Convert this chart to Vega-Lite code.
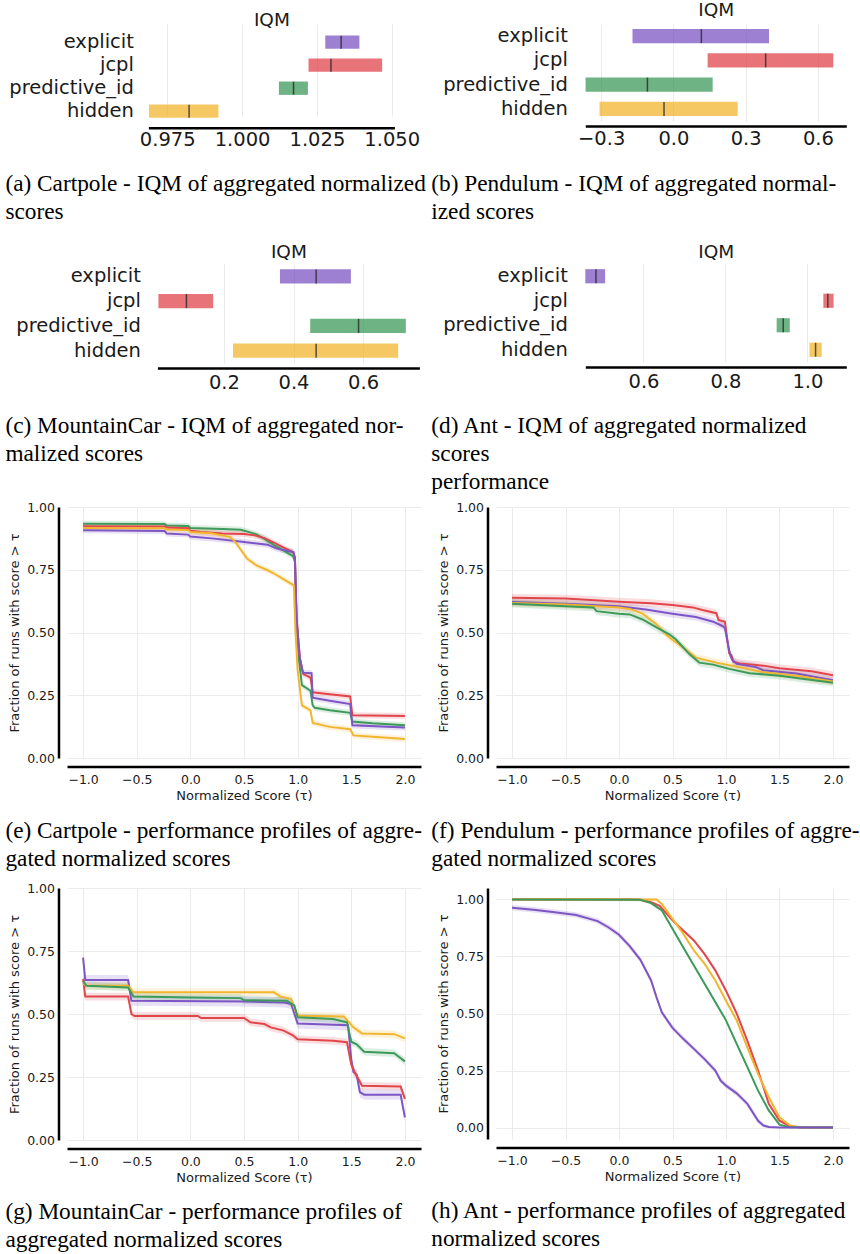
{
"$schema": "https://vega.github.io/schema/vega-lite/v6.json",
"padding": {"left": 5, "top": 0, "right": 0, "bottom": 0},
"background": "white",
"columns": 2,
"align": "each",
"bounds": "full",
"spacing": {"row": 0, "column": 5},
"config": {
  "view": {"stroke": null},
  "font": "DejaVu Sans",
  "axis": {"labelFont": "DejaVu Sans", "titleFont": "DejaVu Sans", "labelColor": "#1a1a1a", "titleColor": "#1a1a1a", "titleFontWeight": "normal", "ticks": false, "domainColor": "#000000", "domainWidth": 2.5, "gridColor": "#ebebeb", "gridWidth": 1, "labelFlush": false, "labelOverlap": false, "labelBound": false},
  "title": {"font": "Liberation Serif", "fontSize": 23.3, "fontWeight": "normal", "color": "#000000", "lineHeight": 28}
},
"datasets": {
  "iqm_a": [
    {"m": "explicit", "lo": 1.0278, "hi": 1.0392, "med": 1.0331},
    {"m": "jcpl", "lo": 1.0222, "hi": 1.0468, "med": 1.0297},
    {"m": "predictive_id", "lo": 1.0123, "hi": 1.022, "med": 1.0172},
    {"m": "hidden", "lo": 0.9689, "hi": 0.9921, "med": 0.9823}
  ],
  "iqm_b": [
    {"m": "explicit", "lo": -0.17, "hi": 0.397, "med": 0.116},
    {"m": "jcpl", "lo": 0.142, "hi": 0.664, "med": 0.383},
    {"m": "predictive_id", "lo": -0.365, "hi": 0.163, "med": -0.108},
    {"m": "hidden", "lo": -0.307, "hi": 0.267, "med": -0.039}
  ],
  "iqm_c": [
    {"m": "explicit", "lo": 0.361, "hi": 0.565, "med": 0.465},
    {"m": "jcpl", "lo": 0.0115, "hi": 0.169, "med": 0.092},
    {"m": "predictive_id", "lo": 0.448, "hi": 0.723, "med": 0.587},
    {"m": "hidden", "lo": 0.226, "hi": 0.701, "med": 0.465}
  ],
  "iqm_d": [
    {"m": "explicit", "lo": 0.458, "hi": 0.5065, "med": 0.484},
    {"m": "jcpl", "lo": 1.039, "hi": 1.064, "med": 1.05},
    {"m": "predictive_id", "lo": 0.925, "hi": 0.957, "med": 0.941},
    {"m": "hidden", "lo": 1.005, "hi": 1.035, "med": 1.02}
  ],
  "pp_e": [
    {"m": "predictive_id", "t": -1.0, "v": 0.933, "lo": 0.921, "hi": 0.945},
    {"m": "predictive_id", "t": -0.24, "v": 0.932, "lo": 0.92, "hi": 0.944},
    {"m": "predictive_id", "t": -0.22, "v": 0.926, "lo": 0.914, "hi": 0.938},
    {"m": "predictive_id", "t": -0.02, "v": 0.924, "lo": 0.912, "hi": 0.936},
    {"m": "predictive_id", "t": 0.0, "v": 0.916, "lo": 0.904, "hi": 0.928},
    {"m": "predictive_id", "t": 0.3, "v": 0.912, "lo": 0.9, "hi": 0.924},
    {"m": "predictive_id", "t": 0.47, "v": 0.909, "lo": 0.897, "hi": 0.921},
    {"m": "predictive_id", "t": 0.55, "v": 0.9, "lo": 0.888, "hi": 0.912},
    {"m": "predictive_id", "t": 0.62, "v": 0.89, "lo": 0.878, "hi": 0.902},
    {"m": "predictive_id", "t": 0.69, "v": 0.873, "lo": 0.861, "hi": 0.885},
    {"m": "predictive_id", "t": 0.78, "v": 0.848, "lo": 0.836, "hi": 0.86},
    {"m": "predictive_id", "t": 0.87, "v": 0.826, "lo": 0.814, "hi": 0.838},
    {"m": "predictive_id", "t": 0.96, "v": 0.803, "lo": 0.791, "hi": 0.815},
    {"m": "predictive_id", "t": 0.975, "v": 0.78, "lo": 0.768, "hi": 0.792},
    {"m": "predictive_id", "t": 0.99, "v": 0.55, "lo": 0.538, "hi": 0.562},
    {"m": "predictive_id", "t": 1.01, "v": 0.4, "lo": 0.388, "hi": 0.412},
    {"m": "predictive_id", "t": 1.04, "v": 0.29, "lo": 0.278, "hi": 0.302},
    {"m": "predictive_id", "t": 1.12, "v": 0.268, "lo": 0.256, "hi": 0.28},
    {"m": "predictive_id", "t": 1.14, "v": 0.21, "lo": 0.198, "hi": 0.222},
    {"m": "predictive_id", "t": 1.16, "v": 0.2, "lo": 0.188, "hi": 0.212},
    {"m": "predictive_id", "t": 1.3, "v": 0.19, "lo": 0.178, "hi": 0.202},
    {"m": "predictive_id", "t": 1.49, "v": 0.18, "lo": 0.168, "hi": 0.192},
    {"m": "predictive_id", "t": 1.51, "v": 0.145, "lo": 0.133, "hi": 0.157},
    {"m": "predictive_id", "t": 1.7, "v": 0.138, "lo": 0.126, "hi": 0.15},
    {"m": "predictive_id", "t": 2.0, "v": 0.13, "lo": 0.118, "hi": 0.142},
    {"m": "jcpl", "t": -1.0, "v": 0.923, "lo": 0.911, "hi": 0.935},
    {"m": "jcpl", "t": -0.24, "v": 0.922, "lo": 0.91, "hi": 0.934},
    {"m": "jcpl", "t": -0.22, "v": 0.918, "lo": 0.906, "hi": 0.93},
    {"m": "jcpl", "t": -0.02, "v": 0.915, "lo": 0.903, "hi": 0.927},
    {"m": "jcpl", "t": 0.0, "v": 0.905, "lo": 0.893, "hi": 0.917},
    {"m": "jcpl", "t": 0.1, "v": 0.9, "lo": 0.888, "hi": 0.912},
    {"m": "jcpl", "t": 0.3, "v": 0.894, "lo": 0.882, "hi": 0.906},
    {"m": "jcpl", "t": 0.5, "v": 0.892, "lo": 0.88, "hi": 0.904},
    {"m": "jcpl", "t": 0.6, "v": 0.887, "lo": 0.875, "hi": 0.899},
    {"m": "jcpl", "t": 0.69, "v": 0.876, "lo": 0.864, "hi": 0.888},
    {"m": "jcpl", "t": 0.78, "v": 0.858, "lo": 0.846, "hi": 0.87},
    {"m": "jcpl", "t": 0.87, "v": 0.838, "lo": 0.826, "hi": 0.85},
    {"m": "jcpl", "t": 0.96, "v": 0.82, "lo": 0.808, "hi": 0.832},
    {"m": "jcpl", "t": 0.975, "v": 0.79, "lo": 0.778, "hi": 0.802},
    {"m": "jcpl", "t": 0.99, "v": 0.56, "lo": 0.548, "hi": 0.572},
    {"m": "jcpl", "t": 1.02, "v": 0.4, "lo": 0.388, "hi": 0.412},
    {"m": "jcpl", "t": 1.05, "v": 0.335, "lo": 0.323, "hi": 0.347},
    {"m": "jcpl", "t": 1.12, "v": 0.32, "lo": 0.308, "hi": 0.332},
    {"m": "jcpl", "t": 1.14, "v": 0.262, "lo": 0.25, "hi": 0.274},
    {"m": "jcpl", "t": 1.3, "v": 0.254, "lo": 0.242, "hi": 0.266},
    {"m": "jcpl", "t": 1.49, "v": 0.245, "lo": 0.233, "hi": 0.257},
    {"m": "jcpl", "t": 1.51, "v": 0.17, "lo": 0.158, "hi": 0.182},
    {"m": "jcpl", "t": 2.0, "v": 0.167, "lo": 0.155, "hi": 0.179},
    {"m": "explicit", "t": -1.0, "v": 0.907, "lo": 0.895, "hi": 0.919},
    {"m": "explicit", "t": -0.24, "v": 0.904, "lo": 0.892, "hi": 0.916},
    {"m": "explicit", "t": -0.22, "v": 0.894, "lo": 0.882, "hi": 0.906},
    {"m": "explicit", "t": -0.02, "v": 0.89, "lo": 0.878, "hi": 0.902},
    {"m": "explicit", "t": 0.0, "v": 0.882, "lo": 0.87, "hi": 0.894},
    {"m": "explicit", "t": 0.2, "v": 0.875, "lo": 0.863, "hi": 0.887},
    {"m": "explicit", "t": 0.4, "v": 0.866, "lo": 0.854, "hi": 0.878},
    {"m": "explicit", "t": 0.5, "v": 0.861, "lo": 0.849, "hi": 0.873},
    {"m": "explicit", "t": 0.6, "v": 0.856, "lo": 0.844, "hi": 0.868},
    {"m": "explicit", "t": 0.72, "v": 0.85, "lo": 0.838, "hi": 0.862},
    {"m": "explicit", "t": 0.8, "v": 0.835, "lo": 0.823, "hi": 0.847},
    {"m": "explicit", "t": 0.96, "v": 0.82, "lo": 0.808, "hi": 0.832},
    {"m": "explicit", "t": 0.975, "v": 0.8, "lo": 0.788, "hi": 0.812},
    {"m": "explicit", "t": 0.99, "v": 0.55, "lo": 0.538, "hi": 0.562},
    {"m": "explicit", "t": 1.02, "v": 0.4, "lo": 0.388, "hi": 0.412},
    {"m": "explicit", "t": 1.05, "v": 0.34, "lo": 0.328, "hi": 0.352},
    {"m": "explicit", "t": 1.13, "v": 0.338, "lo": 0.326, "hi": 0.35},
    {"m": "explicit", "t": 1.14, "v": 0.24, "lo": 0.228, "hi": 0.252},
    {"m": "explicit", "t": 1.3, "v": 0.228, "lo": 0.216, "hi": 0.24},
    {"m": "explicit", "t": 1.49, "v": 0.215, "lo": 0.203, "hi": 0.227},
    {"m": "explicit", "t": 1.51, "v": 0.13, "lo": 0.118, "hi": 0.142},
    {"m": "explicit", "t": 2.0, "v": 0.122, "lo": 0.11, "hi": 0.134},
    {"m": "hidden", "t": -1.0, "v": 0.916, "lo": 0.904, "hi": 0.928},
    {"m": "hidden", "t": -0.24, "v": 0.915, "lo": 0.903, "hi": 0.927},
    {"m": "hidden", "t": -0.22, "v": 0.91, "lo": 0.898, "hi": 0.922},
    {"m": "hidden", "t": -0.02, "v": 0.908, "lo": 0.896, "hi": 0.92},
    {"m": "hidden", "t": 0.0, "v": 0.9, "lo": 0.888, "hi": 0.912},
    {"m": "hidden", "t": 0.2, "v": 0.895, "lo": 0.883, "hi": 0.907},
    {"m": "hidden", "t": 0.37, "v": 0.88, "lo": 0.868, "hi": 0.892},
    {"m": "hidden", "t": 0.42, "v": 0.86, "lo": 0.848, "hi": 0.872},
    {"m": "hidden", "t": 0.47, "v": 0.83, "lo": 0.818, "hi": 0.842},
    {"m": "hidden", "t": 0.53, "v": 0.794, "lo": 0.782, "hi": 0.806},
    {"m": "hidden", "t": 0.62, "v": 0.766, "lo": 0.754, "hi": 0.778},
    {"m": "hidden", "t": 0.72, "v": 0.748, "lo": 0.736, "hi": 0.76},
    {"m": "hidden", "t": 0.78, "v": 0.735, "lo": 0.723, "hi": 0.747},
    {"m": "hidden", "t": 0.87, "v": 0.712, "lo": 0.7, "hi": 0.724},
    {"m": "hidden", "t": 0.965, "v": 0.688, "lo": 0.676, "hi": 0.7},
    {"m": "hidden", "t": 0.98, "v": 0.5, "lo": 0.488, "hi": 0.512},
    {"m": "hidden", "t": 1.0, "v": 0.35, "lo": 0.338, "hi": 0.362},
    {"m": "hidden", "t": 1.04, "v": 0.21, "lo": 0.198, "hi": 0.222},
    {"m": "hidden", "t": 1.1, "v": 0.195, "lo": 0.183, "hi": 0.207},
    {"m": "hidden", "t": 1.12, "v": 0.19, "lo": 0.178, "hi": 0.202},
    {"m": "hidden", "t": 1.14, "v": 0.14, "lo": 0.128, "hi": 0.152},
    {"m": "hidden", "t": 1.3, "v": 0.124, "lo": 0.112, "hi": 0.136},
    {"m": "hidden", "t": 1.49, "v": 0.115, "lo": 0.103, "hi": 0.127},
    {"m": "hidden", "t": 1.52, "v": 0.09, "lo": 0.078, "hi": 0.102},
    {"m": "hidden", "t": 1.7, "v": 0.085, "lo": 0.073, "hi": 0.097},
    {"m": "hidden", "t": 2.0, "v": 0.076, "lo": 0.064, "hi": 0.088}
  ],
  "pp_f": [
    {"m": "jcpl", "t": -1.0, "v": 0.638, "lo": 0.623, "hi": 0.653},
    {"m": "jcpl", "t": -0.5, "v": 0.635, "lo": 0.62, "hi": 0.65},
    {"m": "jcpl", "t": 0.0, "v": 0.623, "lo": 0.608, "hi": 0.638},
    {"m": "jcpl", "t": 0.3, "v": 0.617, "lo": 0.602, "hi": 0.632},
    {"m": "jcpl", "t": 0.5, "v": 0.61, "lo": 0.595, "hi": 0.625},
    {"m": "jcpl", "t": 0.69, "v": 0.6, "lo": 0.585, "hi": 0.615},
    {"m": "jcpl", "t": 0.78, "v": 0.59, "lo": 0.575, "hi": 0.605},
    {"m": "jcpl", "t": 0.91, "v": 0.577, "lo": 0.562, "hi": 0.592},
    {"m": "jcpl", "t": 0.93, "v": 0.55, "lo": 0.535, "hi": 0.565},
    {"m": "jcpl", "t": 0.99, "v": 0.543, "lo": 0.528, "hi": 0.558},
    {"m": "jcpl", "t": 1.01, "v": 0.48, "lo": 0.465, "hi": 0.495},
    {"m": "jcpl", "t": 1.03, "v": 0.417, "lo": 0.402, "hi": 0.432},
    {"m": "jcpl", "t": 1.05, "v": 0.41, "lo": 0.395, "hi": 0.425},
    {"m": "jcpl", "t": 1.07, "v": 0.384, "lo": 0.369, "hi": 0.399},
    {"m": "jcpl", "t": 1.13, "v": 0.377, "lo": 0.362, "hi": 0.392},
    {"m": "jcpl", "t": 1.35, "v": 0.368, "lo": 0.353, "hi": 0.383},
    {"m": "jcpl", "t": 1.5, "v": 0.358, "lo": 0.343, "hi": 0.373},
    {"m": "jcpl", "t": 1.8, "v": 0.346, "lo": 0.331, "hi": 0.361},
    {"m": "jcpl", "t": 2.0, "v": 0.33, "lo": 0.315, "hi": 0.345},
    {"m": "explicit", "t": -1.0, "v": 0.622, "lo": 0.607, "hi": 0.637},
    {"m": "explicit", "t": -0.5, "v": 0.615, "lo": 0.6, "hi": 0.63},
    {"m": "explicit", "t": 0.0, "v": 0.605, "lo": 0.59, "hi": 0.62},
    {"m": "explicit", "t": 0.25, "v": 0.592, "lo": 0.577, "hi": 0.607},
    {"m": "explicit", "t": 0.5, "v": 0.575, "lo": 0.56, "hi": 0.59},
    {"m": "explicit", "t": 0.72, "v": 0.562, "lo": 0.547, "hi": 0.577},
    {"m": "explicit", "t": 0.88, "v": 0.543, "lo": 0.528, "hi": 0.558},
    {"m": "explicit", "t": 0.97, "v": 0.525, "lo": 0.51, "hi": 0.54},
    {"m": "explicit", "t": 0.99, "v": 0.518, "lo": 0.503, "hi": 0.533},
    {"m": "explicit", "t": 1.02, "v": 0.45, "lo": 0.435, "hi": 0.465},
    {"m": "explicit", "t": 1.04, "v": 0.41, "lo": 0.395, "hi": 0.425},
    {"m": "explicit", "t": 1.06, "v": 0.39, "lo": 0.375, "hi": 0.405},
    {"m": "explicit", "t": 1.1, "v": 0.375, "lo": 0.36, "hi": 0.39},
    {"m": "explicit", "t": 1.28, "v": 0.362, "lo": 0.347, "hi": 0.377},
    {"m": "explicit", "t": 1.35, "v": 0.35, "lo": 0.335, "hi": 0.365},
    {"m": "explicit", "t": 1.66, "v": 0.337, "lo": 0.322, "hi": 0.352},
    {"m": "explicit", "t": 2.0, "v": 0.31, "lo": 0.295, "hi": 0.325},
    {"m": "hidden", "t": -1.0, "v": 0.618, "lo": 0.603, "hi": 0.633},
    {"m": "hidden", "t": -0.5, "v": 0.612, "lo": 0.597, "hi": 0.627},
    {"m": "hidden", "t": 0.0, "v": 0.6, "lo": 0.585, "hi": 0.615},
    {"m": "hidden", "t": 0.1, "v": 0.594, "lo": 0.579, "hi": 0.609},
    {"m": "hidden", "t": 0.22, "v": 0.575, "lo": 0.56, "hi": 0.59},
    {"m": "hidden", "t": 0.35, "v": 0.533, "lo": 0.518, "hi": 0.548},
    {"m": "hidden", "t": 0.47, "v": 0.48, "lo": 0.465, "hi": 0.495},
    {"m": "hidden", "t": 0.6, "v": 0.44, "lo": 0.425, "hi": 0.455},
    {"m": "hidden", "t": 0.72, "v": 0.4, "lo": 0.385, "hi": 0.415},
    {"m": "hidden", "t": 0.91, "v": 0.38, "lo": 0.365, "hi": 0.395},
    {"m": "hidden", "t": 1.1, "v": 0.364, "lo": 0.349, "hi": 0.379},
    {"m": "hidden", "t": 1.35, "v": 0.342, "lo": 0.327, "hi": 0.357},
    {"m": "hidden", "t": 1.66, "v": 0.328, "lo": 0.313, "hi": 0.343},
    {"m": "hidden", "t": 2.0, "v": 0.305, "lo": 0.29, "hi": 0.32},
    {"m": "predictive_id", "t": -1.0, "v": 0.615, "lo": 0.6, "hi": 0.63},
    {"m": "predictive_id", "t": -0.5, "v": 0.605, "lo": 0.59, "hi": 0.62},
    {"m": "predictive_id", "t": -0.24, "v": 0.6, "lo": 0.585, "hi": 0.615},
    {"m": "predictive_id", "t": -0.21, "v": 0.585, "lo": 0.57, "hi": 0.6},
    {"m": "predictive_id", "t": 0.0, "v": 0.575, "lo": 0.56, "hi": 0.59},
    {"m": "predictive_id", "t": 0.1, "v": 0.572, "lo": 0.557, "hi": 0.587},
    {"m": "predictive_id", "t": 0.22, "v": 0.552, "lo": 0.537, "hi": 0.567},
    {"m": "predictive_id", "t": 0.35, "v": 0.52, "lo": 0.505, "hi": 0.535},
    {"m": "predictive_id", "t": 0.47, "v": 0.493, "lo": 0.478, "hi": 0.508},
    {"m": "predictive_id", "t": 0.53, "v": 0.473, "lo": 0.458, "hi": 0.488},
    {"m": "predictive_id", "t": 0.66, "v": 0.413, "lo": 0.398, "hi": 0.428},
    {"m": "predictive_id", "t": 0.75, "v": 0.38, "lo": 0.365, "hi": 0.395},
    {"m": "predictive_id", "t": 0.88, "v": 0.372, "lo": 0.357, "hi": 0.387},
    {"m": "predictive_id", "t": 1.03, "v": 0.355, "lo": 0.34, "hi": 0.37},
    {"m": "predictive_id", "t": 1.22, "v": 0.338, "lo": 0.323, "hi": 0.353},
    {"m": "predictive_id", "t": 1.5, "v": 0.328, "lo": 0.313, "hi": 0.343},
    {"m": "predictive_id", "t": 2.0, "v": 0.3, "lo": 0.285, "hi": 0.315}
  ],
  "pp_g": [
    {"m": "explicit", "t": -1.0, "v": 0.724, "lo": 0.704, "hi": 0.744},
    {"m": "explicit", "t": -0.98, "v": 0.635, "lo": 0.615, "hi": 0.655},
    {"m": "explicit", "t": -0.58, "v": 0.635, "lo": 0.615, "hi": 0.655},
    {"m": "explicit", "t": -0.55, "v": 0.553, "lo": 0.533, "hi": 0.573},
    {"m": "explicit", "t": 0.5, "v": 0.55, "lo": 0.53, "hi": 0.57},
    {"m": "explicit", "t": 0.875, "v": 0.546, "lo": 0.526, "hi": 0.566},
    {"m": "explicit", "t": 0.94, "v": 0.54, "lo": 0.52, "hi": 0.56},
    {"m": "explicit", "t": 1.0, "v": 0.462, "lo": 0.442, "hi": 0.482},
    {"m": "explicit", "t": 1.47, "v": 0.455, "lo": 0.435, "hi": 0.475},
    {"m": "explicit", "t": 1.5, "v": 0.32, "lo": 0.3, "hi": 0.34},
    {"m": "explicit", "t": 1.52, "v": 0.27, "lo": 0.25, "hi": 0.29},
    {"m": "explicit", "t": 1.55, "v": 0.26, "lo": 0.24, "hi": 0.28},
    {"m": "explicit", "t": 1.58, "v": 0.19, "lo": 0.17, "hi": 0.21},
    {"m": "explicit", "t": 1.62, "v": 0.18, "lo": 0.16, "hi": 0.2},
    {"m": "explicit", "t": 1.96, "v": 0.18, "lo": 0.16, "hi": 0.2},
    {"m": "explicit", "t": 2.0, "v": 0.09, "lo": 0.07, "hi": 0.11},
    {"m": "jcpl", "t": -1.0, "v": 0.639, "lo": 0.624, "hi": 0.654},
    {"m": "jcpl", "t": -0.98, "v": 0.569, "lo": 0.554, "hi": 0.584},
    {"m": "jcpl", "t": -0.58, "v": 0.569, "lo": 0.554, "hi": 0.584},
    {"m": "jcpl", "t": -0.55, "v": 0.5, "lo": 0.485, "hi": 0.515},
    {"m": "jcpl", "t": -0.52, "v": 0.492, "lo": 0.477, "hi": 0.507},
    {"m": "jcpl", "t": 0.07, "v": 0.492, "lo": 0.477, "hi": 0.507},
    {"m": "jcpl", "t": 0.1, "v": 0.484, "lo": 0.469, "hi": 0.499},
    {"m": "jcpl", "t": 0.5, "v": 0.484, "lo": 0.469, "hi": 0.499},
    {"m": "jcpl", "t": 0.56, "v": 0.467, "lo": 0.452, "hi": 0.482},
    {"m": "jcpl", "t": 0.69, "v": 0.46, "lo": 0.445, "hi": 0.475},
    {"m": "jcpl", "t": 0.75, "v": 0.447, "lo": 0.432, "hi": 0.462},
    {"m": "jcpl", "t": 0.87, "v": 0.434, "lo": 0.419, "hi": 0.449},
    {"m": "jcpl", "t": 0.96, "v": 0.414, "lo": 0.399, "hi": 0.429},
    {"m": "jcpl", "t": 1.0, "v": 0.4, "lo": 0.385, "hi": 0.415},
    {"m": "jcpl", "t": 1.33, "v": 0.394, "lo": 0.379, "hi": 0.409},
    {"m": "jcpl", "t": 1.46, "v": 0.388, "lo": 0.373, "hi": 0.403},
    {"m": "jcpl", "t": 1.5, "v": 0.3, "lo": 0.285, "hi": 0.315},
    {"m": "jcpl", "t": 1.53, "v": 0.27, "lo": 0.255, "hi": 0.285},
    {"m": "jcpl", "t": 1.55, "v": 0.255, "lo": 0.24, "hi": 0.27},
    {"m": "jcpl", "t": 1.6, "v": 0.215, "lo": 0.2, "hi": 0.23},
    {"m": "jcpl", "t": 1.96, "v": 0.212, "lo": 0.197, "hi": 0.227},
    {"m": "jcpl", "t": 2.0, "v": 0.163, "lo": 0.148, "hi": 0.178},
    {"m": "hidden", "t": -1.0, "v": 0.62, "lo": 0.605, "hi": 0.635},
    {"m": "hidden", "t": -0.97, "v": 0.612, "lo": 0.597, "hi": 0.627},
    {"m": "hidden", "t": -0.58, "v": 0.612, "lo": 0.597, "hi": 0.627},
    {"m": "hidden", "t": -0.53, "v": 0.586, "lo": 0.571, "hi": 0.601},
    {"m": "hidden", "t": 0.78, "v": 0.586, "lo": 0.571, "hi": 0.601},
    {"m": "hidden", "t": 0.84, "v": 0.569, "lo": 0.554, "hi": 0.584},
    {"m": "hidden", "t": 0.94, "v": 0.56, "lo": 0.545, "hi": 0.575},
    {"m": "hidden", "t": 0.99, "v": 0.5, "lo": 0.485, "hi": 0.515},
    {"m": "hidden", "t": 1.02, "v": 0.493, "lo": 0.478, "hi": 0.508},
    {"m": "hidden", "t": 1.43, "v": 0.49, "lo": 0.475, "hi": 0.505},
    {"m": "hidden", "t": 1.48, "v": 0.467, "lo": 0.452, "hi": 0.482},
    {"m": "hidden", "t": 1.52, "v": 0.447, "lo": 0.432, "hi": 0.462},
    {"m": "hidden", "t": 1.6, "v": 0.423, "lo": 0.408, "hi": 0.438},
    {"m": "hidden", "t": 1.9, "v": 0.42, "lo": 0.405, "hi": 0.435},
    {"m": "hidden", "t": 2.0, "v": 0.403, "lo": 0.388, "hi": 0.418},
    {"m": "predictive_id", "t": -1.0, "v": 0.632, "lo": 0.617, "hi": 0.647},
    {"m": "predictive_id", "t": -0.97, "v": 0.612, "lo": 0.597, "hi": 0.627},
    {"m": "predictive_id", "t": -0.58, "v": 0.605, "lo": 0.59, "hi": 0.62},
    {"m": "predictive_id", "t": -0.53, "v": 0.569, "lo": 0.554, "hi": 0.584},
    {"m": "predictive_id", "t": 0.0, "v": 0.565, "lo": 0.55, "hi": 0.58},
    {"m": "predictive_id", "t": 0.47, "v": 0.563, "lo": 0.548, "hi": 0.578},
    {"m": "predictive_id", "t": 0.5, "v": 0.555, "lo": 0.54, "hi": 0.57},
    {"m": "predictive_id", "t": 0.9, "v": 0.553, "lo": 0.538, "hi": 0.568},
    {"m": "predictive_id", "t": 0.97, "v": 0.533, "lo": 0.518, "hi": 0.548},
    {"m": "predictive_id", "t": 1.0, "v": 0.487, "lo": 0.472, "hi": 0.502},
    {"m": "predictive_id", "t": 1.33, "v": 0.48, "lo": 0.465, "hi": 0.495},
    {"m": "predictive_id", "t": 1.46, "v": 0.467, "lo": 0.452, "hi": 0.482},
    {"m": "predictive_id", "t": 1.5, "v": 0.39, "lo": 0.375, "hi": 0.405},
    {"m": "predictive_id", "t": 1.55, "v": 0.38, "lo": 0.365, "hi": 0.395},
    {"m": "predictive_id", "t": 1.62, "v": 0.35, "lo": 0.335, "hi": 0.365},
    {"m": "predictive_id", "t": 1.9, "v": 0.344, "lo": 0.329, "hi": 0.359},
    {"m": "predictive_id", "t": 2.0, "v": 0.312, "lo": 0.297, "hi": 0.327}
  ],
  "pp_h": [
    {"m": "jcpl", "t": -1.0, "v": 1.0, "lo": 0.994, "hi": 1.006},
    {"m": "jcpl", "t": 0.1, "v": 1.0, "lo": 0.994, "hi": 1.006},
    {"m": "jcpl", "t": 0.2, "v": 0.998, "lo": 0.992, "hi": 1.004},
    {"m": "jcpl", "t": 0.3, "v": 0.988, "lo": 0.982, "hi": 0.994},
    {"m": "jcpl", "t": 0.38, "v": 0.972, "lo": 0.966, "hi": 0.978},
    {"m": "jcpl", "t": 0.5, "v": 0.908, "lo": 0.902, "hi": 0.914},
    {"m": "jcpl", "t": 0.6, "v": 0.864, "lo": 0.858, "hi": 0.87},
    {"m": "jcpl", "t": 0.7, "v": 0.82, "lo": 0.814, "hi": 0.826},
    {"m": "jcpl", "t": 0.8, "v": 0.76, "lo": 0.754, "hi": 0.766},
    {"m": "jcpl", "t": 0.9, "v": 0.689, "lo": 0.683, "hi": 0.695},
    {"m": "jcpl", "t": 1.0, "v": 0.6, "lo": 0.594, "hi": 0.606},
    {"m": "jcpl", "t": 1.1, "v": 0.5, "lo": 0.494, "hi": 0.506},
    {"m": "jcpl", "t": 1.2, "v": 0.38, "lo": 0.374, "hi": 0.386},
    {"m": "jcpl", "t": 1.3, "v": 0.25, "lo": 0.244, "hi": 0.256},
    {"m": "jcpl", "t": 1.4, "v": 0.104, "lo": 0.098, "hi": 0.11},
    {"m": "jcpl", "t": 1.5, "v": 0.03, "lo": 0.024, "hi": 0.036},
    {"m": "jcpl", "t": 1.6, "v": 0.006, "lo": 0.0, "hi": 0.012},
    {"m": "jcpl", "t": 1.7, "v": 0.0, "lo": -0.003, "hi": 0.003},
    {"m": "jcpl", "t": 2.0, "v": 0.0, "lo": -0.003, "hi": 0.003},
    {"m": "hidden", "t": -1.0, "v": 1.0, "lo": 0.994, "hi": 1.006},
    {"m": "hidden", "t": 0.35, "v": 1.0, "lo": 0.994, "hi": 1.006},
    {"m": "hidden", "t": 0.4, "v": 0.98, "lo": 0.974, "hi": 0.986},
    {"m": "hidden", "t": 0.5, "v": 0.915, "lo": 0.909, "hi": 0.921},
    {"m": "hidden", "t": 0.6, "v": 0.85, "lo": 0.844, "hi": 0.856},
    {"m": "hidden", "t": 0.7, "v": 0.776, "lo": 0.77, "hi": 0.782},
    {"m": "hidden", "t": 0.8, "v": 0.718, "lo": 0.712, "hi": 0.724},
    {"m": "hidden", "t": 0.9, "v": 0.645, "lo": 0.639, "hi": 0.651},
    {"m": "hidden", "t": 1.0, "v": 0.556, "lo": 0.55, "hi": 0.562},
    {"m": "hidden", "t": 1.1, "v": 0.47, "lo": 0.464, "hi": 0.476},
    {"m": "hidden", "t": 1.2, "v": 0.35, "lo": 0.344, "hi": 0.356},
    {"m": "hidden", "t": 1.3, "v": 0.235, "lo": 0.229, "hi": 0.241},
    {"m": "hidden", "t": 1.4, "v": 0.133, "lo": 0.127, "hi": 0.139},
    {"m": "hidden", "t": 1.5, "v": 0.045, "lo": 0.039, "hi": 0.051},
    {"m": "hidden", "t": 1.6, "v": 0.009, "lo": 0.003, "hi": 0.015},
    {"m": "hidden", "t": 1.7, "v": 0.0, "lo": -0.003, "hi": 0.003},
    {"m": "hidden", "t": 2.0, "v": 0.0, "lo": -0.003, "hi": 0.003},
    {"m": "predictive_id", "t": -1.0, "v": 1.0, "lo": 0.994, "hi": 1.006},
    {"m": "predictive_id", "t": 0.2, "v": 0.998, "lo": 0.992, "hi": 1.004},
    {"m": "predictive_id", "t": 0.3, "v": 0.984, "lo": 0.978, "hi": 0.99},
    {"m": "predictive_id", "t": 0.4, "v": 0.952, "lo": 0.946, "hi": 0.958},
    {"m": "predictive_id", "t": 0.5, "v": 0.871, "lo": 0.865, "hi": 0.877},
    {"m": "predictive_id", "t": 0.6, "v": 0.79, "lo": 0.784, "hi": 0.796},
    {"m": "predictive_id", "t": 0.7, "v": 0.71, "lo": 0.704, "hi": 0.716},
    {"m": "predictive_id", "t": 0.8, "v": 0.63, "lo": 0.624, "hi": 0.636},
    {"m": "predictive_id", "t": 0.9, "v": 0.55, "lo": 0.544, "hi": 0.556},
    {"m": "predictive_id", "t": 1.0, "v": 0.47, "lo": 0.464, "hi": 0.476},
    {"m": "predictive_id", "t": 1.1, "v": 0.367, "lo": 0.361, "hi": 0.373},
    {"m": "predictive_id", "t": 1.2, "v": 0.265, "lo": 0.259, "hi": 0.271},
    {"m": "predictive_id", "t": 1.3, "v": 0.162, "lo": 0.156, "hi": 0.168},
    {"m": "predictive_id", "t": 1.4, "v": 0.075, "lo": 0.069, "hi": 0.081},
    {"m": "predictive_id", "t": 1.5, "v": 0.013, "lo": 0.007, "hi": 0.019},
    {"m": "predictive_id", "t": 1.6, "v": 0.001, "lo": -0.003, "hi": 0.005},
    {"m": "predictive_id", "t": 2.0, "v": 0.0, "lo": -0.003, "hi": 0.003},
    {"m": "explicit", "t": -1.0, "v": 0.963, "lo": 0.951, "hi": 0.975},
    {"m": "explicit", "t": -0.8, "v": 0.955, "lo": 0.943, "hi": 0.967},
    {"m": "explicit", "t": -0.6, "v": 0.944, "lo": 0.932, "hi": 0.956},
    {"m": "explicit", "t": -0.4, "v": 0.932, "lo": 0.92, "hi": 0.944},
    {"m": "explicit", "t": -0.2, "v": 0.905, "lo": 0.893, "hi": 0.917},
    {"m": "explicit", "t": -0.1, "v": 0.878, "lo": 0.866, "hi": 0.89},
    {"m": "explicit", "t": 0.0, "v": 0.845, "lo": 0.833, "hi": 0.857},
    {"m": "explicit", "t": 0.1, "v": 0.795, "lo": 0.783, "hi": 0.807},
    {"m": "explicit", "t": 0.2, "v": 0.735, "lo": 0.723, "hi": 0.747},
    {"m": "explicit", "t": 0.3, "v": 0.645, "lo": 0.633, "hi": 0.657},
    {"m": "explicit", "t": 0.35, "v": 0.572, "lo": 0.56, "hi": 0.584},
    {"m": "explicit", "t": 0.4, "v": 0.505, "lo": 0.493, "hi": 0.517},
    {"m": "explicit", "t": 0.5, "v": 0.437, "lo": 0.425, "hi": 0.449},
    {"m": "explicit", "t": 0.6, "v": 0.389, "lo": 0.377, "hi": 0.401},
    {"m": "explicit", "t": 0.7, "v": 0.345, "lo": 0.333, "hi": 0.357},
    {"m": "explicit", "t": 0.8, "v": 0.3, "lo": 0.288, "hi": 0.312},
    {"m": "explicit", "t": 0.9, "v": 0.25, "lo": 0.238, "hi": 0.262},
    {"m": "explicit", "t": 0.95, "v": 0.206, "lo": 0.194, "hi": 0.218},
    {"m": "explicit", "t": 1.0, "v": 0.184, "lo": 0.172, "hi": 0.196},
    {"m": "explicit", "t": 1.1, "v": 0.15, "lo": 0.138, "hi": 0.162},
    {"m": "explicit", "t": 1.2, "v": 0.104, "lo": 0.092, "hi": 0.116},
    {"m": "explicit", "t": 1.3, "v": 0.03, "lo": 0.018, "hi": 0.042},
    {"m": "explicit", "t": 1.35, "v": 0.009, "lo": 0.0, "hi": 0.018},
    {"m": "explicit", "t": 1.4, "v": 0.003, "lo": -0.003, "hi": 0.009},
    {"m": "explicit", "t": 1.5, "v": 0.0, "lo": -0.003, "hi": 0.003},
    {"m": "explicit", "t": 2.0, "v": 0.0, "lo": -0.003, "hi": 0.003}
  ]
},
"concat": [
  {
    "width": 327.4, "height": 98.7,
    "data": {"name": "iqm_a"},
    "title": {"text": ["(a) Cartpole - IQM of aggregated normalized", "scores"], "orient": "bottom", "anchor": "start", "frame": "group", "dx": -61.6, "offset": 24, "baseline": "top", "align": "left"},
    "layer": [
      {"mark": {"type": "bar", "opacity": 0.75},
       "encoding": {
         "y": {"field": "m", "type": "nominal", "sort": ["explicit", "jcpl", "predictive_id", "hidden"], "scale": {"range": [6.7, 98.7], "paddingInner": 0.42, "paddingOuter": 0.21}, "axis": {"title": null, "domain": false, "grid": false, "labelFontSize": 19.5, "labelPadding": 15, "offset": -81.4}},
         "x": {"field": "lo", "type": "quantitative", "scale": {"domain": [0.9687, 1.0509], "range": [81.4, 327.4], "nice": false, "zero": false}, "axis": {"orient": "bottom", "title": null, "values": [0.975, 1.0, 1.025, 1.05], "format": ".3f", "labelFontSize": 19.5, "labelPadding": 3, "offset": 5, "grid": true}},
         "x2": {"field": "hi"},
         "color": {"field": "m", "type": "nominal", "scale": {"domain": ["explicit", "jcpl", "predictive_id", "hidden"], "range": ["#7e55c4", "#e0464c", "#3d9a5b", "#f2b52f"]}, "legend": null}
       }},
      {"mark": {"type": "tick", "color": "#222222", "opacity": 0.75, "thickness": 1.5, "size": 13},
       "encoding": {
         "y": {"field": "m", "type": "nominal", "sort": ["explicit", "jcpl", "predictive_id", "hidden"]},
         "x": {"field": "med", "type": "quantitative", "axis": {"orient": "top", "title": "IQM", "labels": false, "domain": false, "grid": false, "titleY": 1.7, "titleBaseline": "alphabetic", "titleFontSize": 18.5, "minExtent": 23.3, "maxExtent": 23.3}}
       }}
    ],
    "resolve": {"axis": {"x": "independent"}}
  },
  {
    "width": 350.3, "height": 97,
    "data": {"name": "iqm_b"},
    "title": {"text": ["(b) Pendulum - IQM of aggregated normal-", "ized scores"], "orient": "bottom", "anchor": "start", "frame": "group", "dx": -64.7, "offset": 25.7, "baseline": "top", "align": "left"},
    "layer": [
      {"mark": {"type": "bar", "opacity": 0.75},
       "encoding": {
         "y": {"field": "m", "type": "nominal", "sort": ["explicit", "jcpl", "predictive_id", "hidden"], "scale": {"paddingInner": 0.42, "paddingOuter": 0.21}, "axis": {"title": null, "domain": false, "grid": false, "labelFontSize": 19.5, "labelPadding": 18, "offset": -89.3}},
         "x": {"field": "lo", "type": "quantitative", "scale": {"domain": [-0.366, 0.718], "range": [89.3, 350.3], "nice": false, "zero": false}, "axis": {"orient": "bottom", "title": null, "values": [-0.3, 0.0, 0.3, 0.6], "format": ".1f", "labelFontSize": 19.5, "labelPadding": 3, "offset": 5, "grid": true}},
         "x2": {"field": "hi"},
         "color": {"field": "m", "type": "nominal", "scale": {"domain": ["explicit", "jcpl", "predictive_id", "hidden"], "range": ["#7e55c4", "#e0464c", "#3d9a5b", "#f2b52f"]}, "legend": null}
       }},
      {"mark": {"type": "tick", "color": "#222222", "opacity": 0.75, "thickness": 1.5, "size": 14},
       "encoding": {
         "y": {"field": "m", "type": "nominal", "sort": ["explicit", "jcpl", "predictive_id", "hidden"]},
         "x": {"field": "med", "type": "quantitative", "axis": {"orient": "top", "title": "IQM", "labels": false, "domain": false, "grid": false, "titleY": -8.3, "titleBaseline": "alphabetic", "titleFontSize": 18.5, "minExtent": 23.3, "maxExtent": 23.3}}
       }}
    ],
    "resolve": {"axis": {"x": "independent"}}
  },
  {
    "width": 352.4, "height": 99,
    "data": {"name": "iqm_c"},
    "title": {"text": ["(c) MountainCar - IQM of aggregated nor-", "malized scores"], "orient": "bottom", "anchor": "start", "frame": "group", "dx": -61.6, "offset": 23.5, "baseline": "top", "align": "left"},
    "layer": [
      {"mark": {"type": "bar", "opacity": 0.75},
       "encoding": {
         "y": {"field": "m", "type": "nominal", "sort": ["explicit", "jcpl", "predictive_id", "hidden"], "scale": {"paddingInner": 0.42, "paddingOuter": 0.21}, "axis": {"title": null, "domain": false, "grid": false, "labelFontSize": 19.5, "labelPadding": 17, "offset": -90.4}},
         "x": {"field": "lo", "type": "quantitative", "scale": {"domain": [0.0086, 0.762], "range": [90.4, 352.4], "nice": false, "zero": false}, "axis": {"orient": "bottom", "title": null, "values": [0.2, 0.4, 0.6], "format": ".1f", "labelFontSize": 19.5, "labelPadding": 5, "offset": 5, "grid": true}},
         "x2": {"field": "hi"},
         "color": {"field": "m", "type": "nominal", "scale": {"domain": ["explicit", "jcpl", "predictive_id", "hidden"], "range": ["#7e55c4", "#e0464c", "#3d9a5b", "#f2b52f"]}, "legend": null}
       }},
      {"mark": {"type": "tick", "color": "#222222", "opacity": 0.75, "thickness": 1.5, "size": 14},
       "encoding": {
         "y": {"field": "m", "type": "nominal", "sort": ["explicit", "jcpl", "predictive_id", "hidden"]},
         "x": {"field": "med", "type": "quantitative", "axis": {"orient": "top", "title": "IQM", "labels": false, "domain": false, "grid": false, "titleY": -6.5, "titleBaseline": "alphabetic", "titleFontSize": 18.5, "minExtent": 39.5, "maxExtent": 39.5}}
       }}
    ],
    "resolve": {"axis": {"x": "independent"}}
  },
  {
    "width": 350.3, "height": 98,
    "data": {"name": "iqm_d"},
    "title": {"text": ["(d) Ant - IQM of aggregated normalized", "scores", "performance"], "orient": "bottom", "anchor": "start", "frame": "group", "dx": -64.7, "offset": 24.5, "baseline": "top", "align": "left"},
    "layer": [
      {"mark": {"type": "bar", "opacity": 0.75},
       "encoding": {
         "y": {"field": "m", "type": "nominal", "sort": ["explicit", "jcpl", "predictive_id", "hidden"], "scale": {"paddingInner": 0.42, "paddingOuter": 0.21}, "axis": {"title": null, "domain": false, "grid": false, "labelFontSize": 19.5, "labelPadding": 18, "offset": -89.3}},
         "x": {"field": "lo", "type": "quantitative", "scale": {"domain": [0.458, 1.095], "range": [89.3, 350.3], "nice": false, "zero": false}, "axis": {"orient": "bottom", "title": null, "values": [0.6, 0.8, 1.0], "format": ".1f", "labelFontSize": 19.5, "labelPadding": 5, "offset": 5, "grid": true}},
         "x2": {"field": "hi"},
         "color": {"field": "m", "type": "nominal", "scale": {"domain": ["explicit", "jcpl", "predictive_id", "hidden"], "range": ["#7e55c4", "#e0464c", "#3d9a5b", "#f2b52f"]}, "legend": null}
       }},
      {"mark": {"type": "tick", "color": "#222222", "opacity": 0.75, "thickness": 1.5, "size": 14},
       "encoding": {
         "y": {"field": "m", "type": "nominal", "sort": ["explicit", "jcpl", "predictive_id", "hidden"]},
         "x": {"field": "med", "type": "quantitative", "axis": {"orient": "top", "title": "IQM", "labels": false, "domain": false, "grid": false, "titleY": -6.5, "titleBaseline": "alphabetic", "titleFontSize": 18.5, "minExtent": 39.5, "maxExtent": 39.5}}
       }}
    ],
    "resolve": {"axis": {"x": "independent"}}
  },
  {
    "width": 354, "height": 251,
    "data": {"name": "pp_e"},
    "title": {"text": ["(e) Cartpole - performance profiles of aggre-", "gated normalized scores"], "orient": "bottom", "anchor": "start", "frame": "group", "dx": -61.6, "offset": 17.5, "baseline": "top", "align": "left"},
    "layer": [
      {"mark": {"type": "area", "opacity": 0.18},
       "encoding": {
         "x": {"field": "t", "type": "quantitative", "scale": {"domain": [-1.15, 2.15], "nice": false, "zero": false}, "axis": {"orient": "bottom", "values": [-1, -0.5, 0, 0.5, 1, 1.5, 2], "format": ".1f", "offset": 8.5, "labelFontSize": 12.5, "labelPadding": 7, "title": "Normalized Score (τ)", "titleFontSize": 13, "titlePadding": 3.5, "grid": true}},
         "y": {"field": "lo", "type": "quantitative", "scale": {"domain": [0, 1], "nice": false, "zero": false}, "axis": {"values": [0, 0.25, 0.5, 0.75, 1], "format": ".2f", "offset": 8.5, "labelFontSize": 12.5, "labelPadding": 4, "title": "Fraction of runs with score > τ", "titleFontSize": 13, "titlePadding": 5, "grid": true}},
         "y2": {"field": "hi"},
         "color": {"field": "m", "type": "nominal", "scale": {"domain": ["explicit", "jcpl", "predictive_id", "hidden"], "range": ["#7e55c4", "#e0464c", "#3d9a5b", "#f2b52f"]}, "legend": null}
       }},
      {"mark": {"type": "line", "strokeWidth": 2},
       "encoding": {
         "x": {"field": "t", "type": "quantitative", "axis": {"orient": "top", "labels": false, "domain": false, "grid": false, "title": null, "minExtent": 12.3, "maxExtent": 12.3}},
         "y": {"field": "v", "type": "quantitative"},
         "color": {"field": "m", "type": "nominal", "legend": null}
       }}
    ],
    "resolve": {"axis": {"x": "independent"}}
  },
  {
    "width": 353, "height": 251,
    "data": {"name": "pp_f"},
    "title": {"text": ["(f) Pendulum - performance profiles of aggre-", "gated normalized scores"], "orient": "bottom", "anchor": "start", "frame": "group", "dx": -64.7, "offset": 17.5, "baseline": "top", "align": "left"},
    "layer": [
      {"mark": {"type": "area", "opacity": 0.18},
       "encoding": {
         "x": {"field": "t", "type": "quantitative", "scale": {"domain": [-1.15, 2.15], "nice": false, "zero": false}, "axis": {"orient": "bottom", "values": [-1, -0.5, 0, 0.5, 1, 1.5, 2], "format": ".1f", "offset": 8.5, "labelFontSize": 12.5, "labelPadding": 7, "title": "Normalized Score (τ)", "titleFontSize": 13, "titlePadding": 3.5, "grid": true}},
         "y": {"field": "lo", "type": "quantitative", "scale": {"domain": [0, 1], "nice": false, "zero": false}, "axis": {"values": [0, 0.25, 0.5, 0.75, 1], "format": ".2f", "offset": 8.5, "labelFontSize": 12.5, "labelPadding": 4, "title": "Fraction of runs with score > τ", "titleFontSize": 13, "titlePadding": 5, "grid": true}},
         "y2": {"field": "hi"},
         "color": {"field": "m", "type": "nominal", "scale": {"domain": ["explicit", "jcpl", "predictive_id", "hidden"], "range": ["#7e55c4", "#e0464c", "#3d9a5b", "#f2b52f"]}, "legend": null}
       }},
      {"mark": {"type": "line", "strokeWidth": 2},
       "encoding": {
         "x": {"field": "t", "type": "quantitative", "axis": {"orient": "top", "labels": false, "domain": false, "grid": false, "title": null, "minExtent": 12.3, "maxExtent": 12.3}},
         "y": {"field": "v", "type": "quantitative"},
         "color": {"field": "m", "type": "nominal", "legend": null}
       }}
    ],
    "resolve": {"axis": {"x": "independent"}}
  },
  {
    "width": 354, "height": 252,
    "data": {"name": "pp_g"},
    "title": {"text": ["(g) MountainCar - performance profiles of", "aggregated normalized scores"], "orient": "bottom", "anchor": "start", "frame": "group", "dx": -61.6, "offset": 16.5, "baseline": "top", "align": "left"},
    "layer": [
      {"mark": {"type": "area", "opacity": 0.18},
       "encoding": {
         "x": {"field": "t", "type": "quantitative", "scale": {"domain": [-1.15, 2.15], "nice": false, "zero": false}, "axis": {"orient": "bottom", "values": [-1, -0.5, 0, 0.5, 1, 1.5, 2], "format": ".1f", "offset": 8.5, "labelFontSize": 12.5, "labelPadding": 7, "title": "Normalized Score (τ)", "titleFontSize": 13, "titlePadding": 3.5, "grid": true}},
         "y": {"field": "lo", "type": "quantitative", "scale": {"domain": [0, 1], "nice": false, "zero": false}, "axis": {"values": [0, 0.25, 0.5, 0.75, 1], "format": ".2f", "offset": 8.5, "labelFontSize": 12.5, "labelPadding": 4, "title": "Fraction of runs with score > τ", "titleFontSize": 13, "titlePadding": 5, "grid": true}},
         "y2": {"field": "hi"},
         "color": {"field": "m", "type": "nominal", "scale": {"domain": ["explicit", "jcpl", "predictive_id", "hidden"], "range": ["#7e55c4", "#e0464c", "#3d9a5b", "#f2b52f"]}, "legend": null}
       }},
      {"mark": {"type": "line", "strokeWidth": 2},
       "encoding": {
         "x": {"field": "t", "type": "quantitative", "axis": {"orient": "top", "labels": false, "domain": false, "grid": false, "title": null, "minExtent": 17, "maxExtent": 17}},
         "y": {"field": "v", "type": "quantitative"},
         "color": {"field": "m", "type": "nominal", "legend": null}
       }}
    ],
    "resolve": {"axis": {"x": "independent"}}
  },
  {
    "width": 353, "height": 251,
    "data": {"name": "pp_h"},
    "title": {"text": ["(h) Ant - performance profiles of aggregated", "normalized scores"], "orient": "bottom", "anchor": "start", "frame": "group", "dx": -64.7, "offset": 16.5, "baseline": "top", "align": "left"},
    "layer": [
      {"mark": {"type": "area", "opacity": 0.18},
       "encoding": {
         "x": {"field": "t", "type": "quantitative", "scale": {"domain": [-1.15, 2.15], "nice": false, "zero": false}, "axis": {"orient": "bottom", "values": [-1, -0.5, 0, 0.5, 1, 1.5, 2], "format": ".1f", "offset": 8.5, "labelFontSize": 12.5, "labelPadding": 7, "title": "Normalized Score (τ)", "titleFontSize": 13, "titlePadding": 3.5, "grid": true}},
         "y": {"field": "lo", "type": "quantitative", "scale": {"domain": [-0.05, 1.05], "nice": false, "zero": false}, "axis": {"values": [0, 0.25, 0.5, 0.75, 1], "format": ".2f", "offset": 8.5, "labelFontSize": 12.5, "labelPadding": 4, "title": "Fraction of runs with score > τ", "titleFontSize": 13, "titlePadding": 5, "grid": true}},
         "y2": {"field": "hi"},
         "color": {"field": "m", "type": "nominal", "scale": {"domain": ["explicit", "jcpl", "predictive_id", "hidden"], "range": ["#7e55c4", "#e0464c", "#3d9a5b", "#f2b52f"]}, "legend": null}
       }},
      {"mark": {"type": "line", "strokeWidth": 2},
       "encoding": {
         "x": {"field": "t", "type": "quantitative", "axis": {"orient": "top", "labels": false, "domain": false, "grid": false, "title": null, "minExtent": 17, "maxExtent": 17}},
         "y": {"field": "v", "type": "quantitative"},
         "color": {"field": "m", "type": "nominal", "legend": null}
       }}
    ],
    "resolve": {"axis": {"x": "independent"}}
  }
]
}
